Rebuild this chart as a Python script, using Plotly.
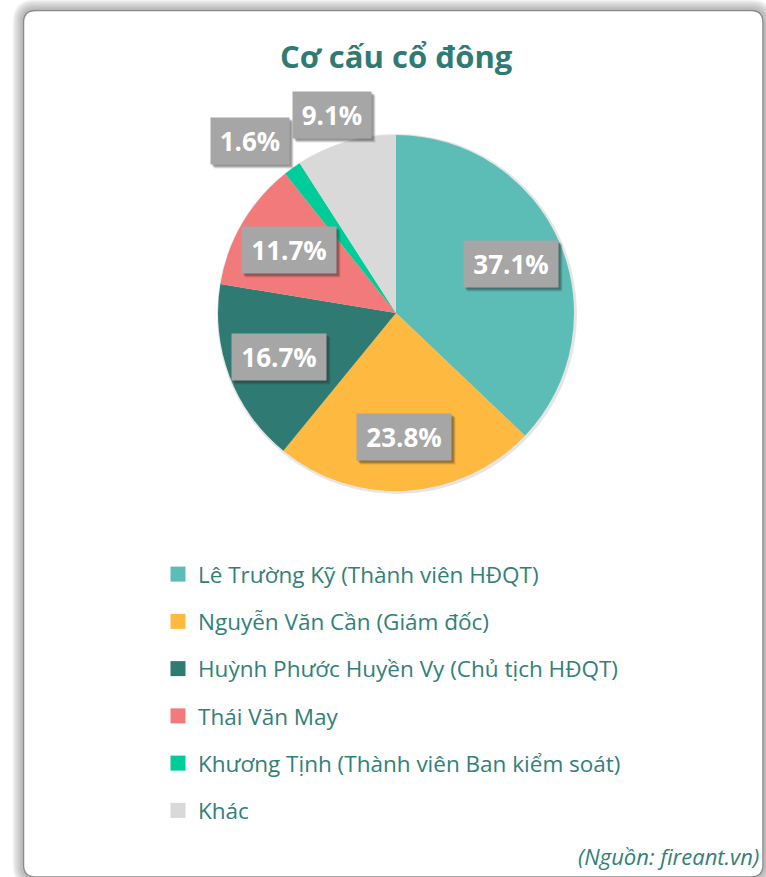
import math
import plotly.graph_objects as go

# ---------------- data ----------------
labels = [
    "Lê Trường Kỹ (Thành viên HĐQT)",
    "Nguyễn Văn Cần (Giám đốc)",
    "Huỳnh Phước Huyền Vy (Chủ tịch HĐQT)",
    "Thái Văn May",
    "Khương Tịnh (Thành viên Ban kiểm soát)",
    "Khác",
]
values = [37.1, 23.8, 16.7, 11.7, 1.6, 9.1]
colors = ["#5BBDB5", "#FDB940", "#2F7B73", "#F27A7A", "#00CC99", "#D9D9D9"]
title_text = "Cơ cấu cổ đông"
source_text = "(Nguồn: fireant.vn)"

# ---------------- layout constants ----------------
W, H = 766, 877
CX, CY, R = 396, 313, 178          # pie centre / radius in pixels
TEXT_COLOR = "#31807A"
TITLE_COLOR = "#2F7B73"
FONT = "Open Sans, Noto Sans, DejaVu Sans, sans-serif"


def px(x):
    return x / W


def py(y):
    return 1 - y / H


fig = go.Figure()

fig.add_trace(go.Pie(
    labels=labels,
    values=values,
    marker=dict(colors=colors, line=dict(width=0)),
    sort=False,
    direction="clockwise",
    rotation=0,
    textinfo="none",
    hoverinfo="label+percent",
    showlegend=False,
    domain=dict(x=[px(CX - R), px(CX + R)], y=[py(CY + R), py(CY - R)]),
))

# legend entries (one group each so spacing can be controlled)
for i, (lab, col) in enumerate(zip(labels, colors)):
    fig.add_trace(go.Scatter(
        x=[None], y=[None], mode="markers", name=lab,
        marker=dict(symbol="square", size=15, color=col),
        legendgroup=f"g{i}", showlegend=True, hoverinfo="skip",
    ))

# ---------------- percentage labels ----------------
annotations = []
total = sum(values)
cum = 0.0
for v in values:
    mid = (cum + v / 2) / total * 2 * math.pi
    cum += v
    s, c = math.sin(mid), math.cos(mid)
    txt = f"{v / total * 100:.1f}%"
    xs = 0
    if v >= 10:
        f = 0.70
        xa, ya = "center", "middle"
    else:
        f = 1.02
        xa = "right" if s < -0.5 else ("left" if s > 0.5 else "center")
        ya = "bottom" if c > 0.5 else ("top" if c < -0.5 else "middle")
        if xa == "center":
            xs = 45 * s
    x = CX + R * f * s
    y = CY - R * f * c
    w = 16 * len(txt) + 4
    common = dict(x=px(x), y=py(y), xref="paper", yref="paper",
                  xanchor=xa, yanchor=ya, showarrow=False,
                  width=w, borderpad=5, align="center")
    for dx, op in [(4, 0.12), (3, 0.22), (2, 0.25)]:
        annotations.append(dict(common, text="&nbsp;", xshift=xs + dx, yshift=-dx,
                                bgcolor=f"rgba(40,40,40,{op})",
                                font=dict(family=FONT, size=26, color="rgba(0,0,0,0)")))
    annotations.append(dict(common, text=txt, xshift=xs, bgcolor="#A6A6A6",
                            font=dict(family=FONT, size=26, color="white", weight="bold")))

annotations.append(dict(x=px(CX), y=py(56), xref="paper", yref="paper",
                        text=f"<b>{title_text}</b>", showarrow=False,
                        xanchor="center", yanchor="middle",
                        font=dict(family=FONT, size=31, color=TITLE_COLOR)))
annotations.append(dict(x=px(761), y=py(856), xref="paper", yref="paper",
                        text=f"<i>{source_text}</i>", showarrow=False,
                        xanchor="right", yanchor="middle",
                        font=dict(family=FONT, size=22, color=TEXT_COLOR)))

# ---------------- card with shadow ----------------
def rounded(x0, y0, x1, y1, r):
    return (f"M {px(x0 + r)} {py(y0)} L {px(x1 - r)} {py(y0)} "
            f"Q {px(x1)} {py(y0)} {px(x1)} {py(y0 + r)} "
            f"L {px(x1)} {py(y1 - r)} Q {px(x1)} {py(y1)} {px(x1 - r)} {py(y1)} "
            f"L {px(x0 + r)} {py(y1)} Q {px(x0)} {py(y1)} {px(x0)} {py(y1 - r)} "
            f"L {px(x0)} {py(y0 + r)} Q {px(x0)} {py(y0)} {px(x0 + r)} {py(y0)} Z")


shapes = []
L0, T0, R0, B0 = 23.5, 10.5, 763, 877
for d in range(10, 0, -1):
    op = 0.05 + 0.03 * (10 - d)
    shapes.append(dict(type="path", xref="paper", yref="paper", layer="below",
                       path=rounded(L0 - d, T0 - d, R0 + d, B0 + d, 12 + d),
                       line=dict(width=2, color=f"rgba(120,120,120,{op:.2f})"),
                       fillcolor="rgba(0,0,0,0)"))
shapes.append(dict(type="path", xref="paper", yref="paper", layer="below",
                   path=rounded(L0, T0, R0, B0, 12),
                   line=dict(width=1.5, color="#8A8A8A"), fillcolor="white"))
# soft pie shadow
shapes.append(dict(type="circle", xref="paper", yref="paper", layer="below",
                   x0=px(CX - R - 1), x1=px(CX + R + 3),
                   y0=py(CY + R + 3), y1=py(CY - R - 1),
                   line=dict(width=0), fillcolor="rgba(0,0,0,0.10)"))

fig.update_layout(
    width=W, height=H,
    margin=dict(l=0, r=0, t=0, b=0),
    paper_bgcolor="white",
    plot_bgcolor="rgba(0,0,0,0)",
    xaxis=dict(visible=False, range=[0, 1]),
    yaxis=dict(visible=False, range=[0, 1]),
    annotations=annotations,
    shapes=shapes,
    showlegend=True,
    legend=dict(x=px(158), y=py(553), xanchor="left", yanchor="top",
                font=dict(family=FONT, size=22.5, color=TEXT_COLOR),
                tracegroupgap=15, bgcolor="rgba(0,0,0,0)", itemclick=False,
                itemdoubleclick=False),
    hovermode="closest",
)

fig.write_html("out.html", post_script="document.body.style.margin='0';",
               config={"displayModeBar": False})
